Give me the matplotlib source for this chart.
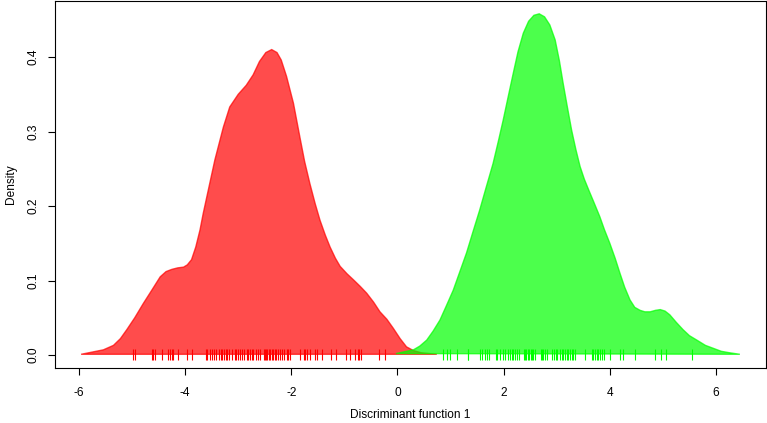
import matplotlib
matplotlib.use("Agg")
import matplotlib.pyplot as plt

# density curves (group 1 = red, group 2 = green)
red_x = [-5.96, -5.54, -5.35, -5.22, -5.10, -4.95, -4.79, -4.62, -4.47, -4.36,
         -4.25, -4.14, -4.03, -3.96, -3.88, -3.80, -3.72, -3.66, -3.59, -3.44,
         -3.28, -3.16, -3.00, -2.85, -2.72, -2.60, -2.48, -2.37, -2.27, -2.19,
         -2.09, -1.96, -1.84, -1.75, -1.65, -1.55, -1.46, -1.36, -1.27, -1.17,
         -1.08, -0.95, -0.83, -0.70, -0.58, -0.45, -0.33, -0.20, -0.08, 0.05,
         0.17, 0.30, 0.45, 0.74]
red_y = [0.001, 0.007, 0.013, 0.022, 0.034, 0.050, 0.069, 0.088, 0.105, 0.112,
         0.115, 0.117, 0.118, 0.121, 0.128, 0.145, 0.168, 0.190, 0.213, 0.262,
         0.306, 0.333, 0.350, 0.362, 0.376, 0.394, 0.406, 0.410, 0.406, 0.396,
         0.374, 0.338, 0.293, 0.260, 0.230, 0.203, 0.181, 0.161, 0.145, 0.130,
         0.119, 0.109, 0.101, 0.092, 0.083, 0.071, 0.058, 0.048, 0.036, 0.022,
         0.011, 0.006, 0.003, 0.001]

green_x = [-0.03, 0.30, 0.42, 0.55, 0.67, 0.80, 0.92, 1.05, 1.17, 1.30,
           1.42, 1.55, 1.67, 1.80, 1.90, 1.99, 2.08, 2.18, 2.27, 2.37,
           2.47, 2.57, 2.67, 2.77, 2.87, 2.97, 3.05, 3.12, 3.20, 3.28,
           3.36, 3.44, 3.52, 3.60, 3.70, 3.81, 3.90, 4.00, 4.10, 4.19,
           4.28, 4.38, 4.47, 4.57, 4.66, 4.76, 4.86, 4.95, 5.04, 5.13,
           5.25, 5.38, 5.50, 5.64, 5.80, 5.95, 6.10, 6.26, 6.45]
green_y = [0.002, 0.007, 0.012, 0.020, 0.032, 0.047, 0.066, 0.087, 0.111, 0.137,
           0.165, 0.195, 0.225, 0.257, 0.287, 0.315, 0.345, 0.378, 0.407, 0.432,
           0.448, 0.456, 0.458, 0.454, 0.443, 0.423, 0.395, 0.365, 0.333, 0.302,
           0.276, 0.253, 0.236, 0.222, 0.205, 0.186, 0.168, 0.150, 0.130, 0.110,
           0.091, 0.074, 0.064, 0.060, 0.058, 0.058, 0.060, 0.061, 0.059, 0.054,
           0.044, 0.034, 0.026, 0.020, 0.013, 0.009, 0.005, 0.003, 0.001]

# individual scores shown as rugs
red_rug = [-4.99, -4.95, -4.63, -4.60, -4.56, -4.44, -4.32, -4.29, -4.24, -4.22,
           -4.13, -3.97, -3.88, -3.61, -3.58, -3.53, -3.49, -3.46, -3.41, -3.36,
           -3.33, -3.30, -3.27, -3.24, -3.22, -3.17, -3.12, -3.07, -3.04, -3.00,
           -2.97, -2.92, -2.89, -2.84, -2.81, -2.78, -2.75, -2.72, -2.67, -2.62,
           -2.59, -2.52, -2.50, -2.48, -2.45, -2.42, -2.40, -2.37, -2.34, -2.31,
           -2.28, -2.25, -2.21, -2.18, -2.13, -2.09, -2.06, -2.03, -1.84, -1.77,
           -1.74, -1.71, -1.64, -1.55, -1.51, -1.42, -1.26, -1.16, -0.97, -0.89,
           -0.80, -0.75, -0.72, -0.69, -0.35, -0.24]
green_rug = [0.86, 0.93, 0.99, 1.13, 1.32, 1.33, 1.55, 1.59, 1.65, 1.68,
             1.72, 1.86, 1.88, 1.94, 1.98, 2.03, 2.09, 2.12, 2.15, 2.18,
             2.21, 2.25, 2.28, 2.38, 2.41, 2.43, 2.46, 2.48, 2.51, 2.53,
             2.56, 2.59, 2.70, 2.72, 2.75, 2.78, 2.81, 2.92, 2.95, 2.98,
             3.01, 3.06, 3.09, 3.12, 3.16, 3.19, 3.22, 3.25, 3.28, 3.31,
             3.34, 3.54, 3.66, 3.69, 3.72, 3.75, 3.78, 3.81, 3.85, 3.89,
             4.00, 4.19, 4.24, 4.47, 4.86, 4.96, 5.06, 5.55]

x_ticks = [-6, -4, -2, 0, 2, 4, 6]
y_ticks = [0.0, 0.1, 0.2, 0.3, 0.4]

plt.rcParams['font.family'] = ['Liberation Sans', 'DejaVu Sans']
FS = 8.6

fig = plt.figure(figsize=(7.67, 4.23), dpi=100)
ax = fig.add_axes([55 / 767, 55 / 423, 711 / 767, 367 / 423])

ax.fill(red_x, red_y, facecolor=(1, 0, 0, 0.7), edgecolor=(1, 0, 0, 0.7), lw=1)
ax.fill(green_x, green_y, facecolor=(0, 1, 0, 0.7), edgecolor=(0, 1, 0, 0.7), lw=1)

ax.vlines(red_rug, -0.007, 0.008, colors="#ff0000", lw=0.8)
ax.vlines(green_rug, -0.007, 0.008, colors="#00ff00", lw=0.8)

ax.set_xlim(-6.452, 6.942)
ax.set_ylim(-0.0174, 0.4752)
ax.set_xticks(x_ticks)
ax.set_xticklabels([str(t) for t in x_ticks])
ax.set_yticks(y_ticks)
ax.set_yticklabels(["%.1f" % t for t in y_ticks], rotation=90, va="center")

ax.tick_params(axis="both", direction="out", length=5, width=0.8, labelsize=FS,
               colors="black")
ax.tick_params(axis="x", pad=9)
ax.tick_params(axis="y", pad=6)
for s in ax.spines.values():
    s.set_linewidth(0.8)
    s.set_color("black")

ax.set_xlabel("Discriminant function 1", fontsize=FS, labelpad=7)
ax.set_ylabel("Density", fontsize=FS, labelpad=8)

fig.savefig("out.png", dpi=100)
